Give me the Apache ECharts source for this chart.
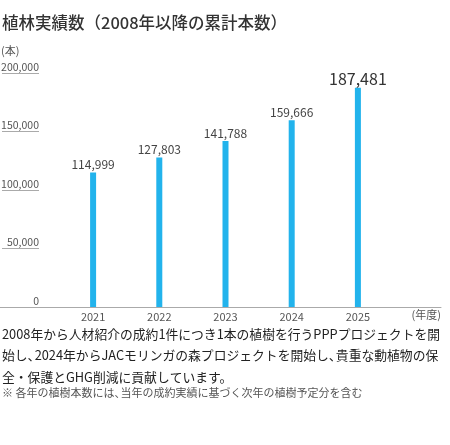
<!DOCTYPE html>
<html><head><meta charset="utf-8">
<script src="https://cdn.jsdelivr.net/npm/echarts@6/dist/echarts.min.js"></script>
<style>html,body{margin:0;padding:0;background:#fff}#c{width:450px;height:445px}</style>
</head><body><div id="c"></div>
<script>
const categories = ['2021', '2022', '2023', '2024', '2025'];
const values = [114999, 127803, 141788, 159666, 187481];
const yTicks = [0, 50000, 100000, 150000, 200000];
const titleText = '植林実績数（2008年以降の累計本数）';
const bodyLines = [
  '2008年から人材紹介の成約1件につき1本の植樹を行うPPPプロジェクトを開',
  '始し、2024年からJACモリンガの森プロジェクトを開始し、貴重な動植物の保',
  '全・保護とGHG削減に貢献しています。'
];
const noteText = '※ 各年の植樹本数には、当年の成約実績に基づく次年の植樹予定分を含む';

const FONT = '"Noto Sans CJK JP", "Noto Sans", sans-serif';
const fmt = v => v.toLocaleString('en-US');
const narrow = s => s.replace(/、/g, '{p|、}');
const chart = echarts.init(document.getElementById('c'), null, {renderer: 'canvas'});
const gTop = 73, gH = 234;
const bodySize = 12.8;
chart.setOption({
  animation: false,
  textStyle: {fontFamily: FONT},
  grid: [
    {left: 38, width: 1, top: gTop, height: gH},
    {left: 60, width: 331, top: gTop, height: gH},
    {left: 0, width: 441, top: gTop, height: gH}
  ],
  xAxis: [
    {gridIndex: 0, type: 'value', show: false},
    {gridIndex: 1, type: 'category', data: categories,
     axisLine: {show: false}, axisTick: {show: false},
     axisLabel: {color: '#555', fontSize: 11, margin: 4, fontFamily: FONT}},
    {gridIndex: 2, type: 'value', min: 0, max: 1,
     axisLine: {show: true, lineStyle: {color: '#aaa', width: 1}},
     axisTick: {show: false}, axisLabel: {show: false}, splitLine: {show: false}}
  ],
  yAxis: [
    {gridIndex: 0, type: 'value', min: yTicks[0], max: yTicks[yTicks.length - 1],
     interval: yTicks[1] - yTicks[0],
     axisLine: {show: false},
     axisTick: {show: true, length: 37, lineStyle: {color: '#aaa', width: 1}},
     splitLine: {show: false},
     axisLabel: {color: '#555', fontSize: 10.5, margin: 0, align: 'right',
                 verticalAlign: 'bottom', padding: [0, 0, 1, 0], fontFamily: FONT,
                 formatter: v => fmt(v)}},
    {gridIndex: 1, type: 'value', min: yTicks[0], max: yTicks[yTicks.length - 1], show: false},
    {gridIndex: 2, type: 'value', show: false}
  ],
  series: [{
    type: 'bar', xAxisIndex: 1, yAxisIndex: 1,
    data: values.map((v, i) => ({
      value: v,
      label: i === values.length - 1
        ? {fontSize: 16, distance: 1, color: '#333'}
        : {fontSize: 12, distance: 2, color: '#444'}
    })),
    barWidth: 6,
    itemStyle: {color: '#22b3ec'},
    label: {show: true, position: 'top', fontFamily: FONT, formatter: p => fmt(p.value)}
  }],
  graphic: [
    {type: 'text', left: 2, top: 14, style: {text: titleText, font: '500 16.5px ' + FONT, fill: '#333'}},
    {type: 'text', left: 1, top: 45, style: {text: '(本)', font: '11px ' + FONT, fill: '#555'}},
    {type: 'text', right: 9, top: 309, style: {text: '(年度)', font: '11px ' + FONT, fill: '#555'}},
    {type: 'text', left: 2, top: 323, style: {
      text: bodyLines.map(narrow).join('\n'), font: bodySize + 'px ' + FONT,
      lineHeight: 21.5, fill: '#222',
      rich: {
        p: {width: bodySize * 0.55, font: bodySize + 'px ' + FONT, fill: '#222', lineHeight: 21.5}
      }}},
    {type: 'text', left: 2, top: 387, style: {text: narrow(noteText), font: '11px ' + FONT, fill: '#555',
      rich: {p: {width: 11 * 0.55, font: '11px ' + FONT, fill: '#555'}}}}
  ]
});
</script></body></html>
